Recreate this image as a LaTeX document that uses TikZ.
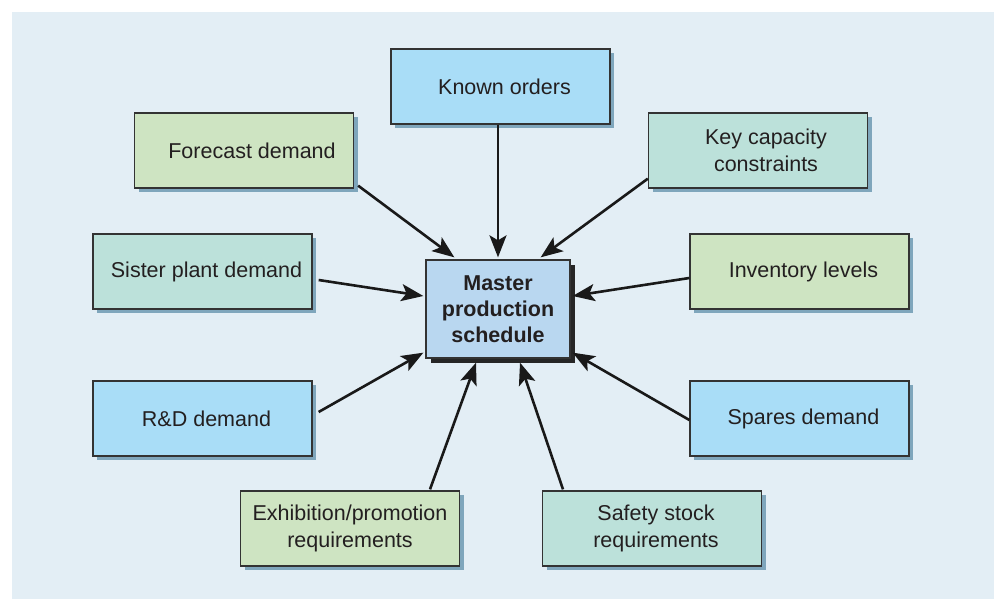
\documentclass[tikz,border=0pt]{standalone}
\usepackage{fontspec}
\setmainfont{Liberation Sans}
\usetikzlibrary{calc,arrows.meta,shadows}
\definecolor{bgcol}{HTML}{E3EEF5}
\definecolor{bluebox}{HTML}{A9DDF7}
\definecolor{greenbox}{HTML}{CEE4C2}
\definecolor{tealbox}{HTML}{BCE1DA}
\definecolor{masterbox}{HTML}{B9D7F0}
\definecolor{shadowcol}{HTML}{7FA6BC}
\definecolor{txtcol}{HTML}{231F20}
\definecolor{edgecol}{HTML}{333333}
\newcommand{\sh}{\hspace*{8pt}}
\tikzset{
  box/.style={draw=edgecol, line width=1.3pt, minimum width=219pt, minimum height=75pt,
    inner sep=0pt, align=center, text=txtcol,
    font=\fontsize{21.5}{27}\selectfont,
    drop shadow={shadow xshift=4pt, shadow yshift=-4pt, fill=shadowcol, opacity=1}},
  bluebx/.style={box, fill=bluebox},
  greenbx/.style={box, fill=greenbox},
  tealbx/.style={box, fill=tealbox},
  masterbx/.style={draw=edgecol, line width=1.3pt, minimum width=144pt, minimum height=98pt,
    inner sep=0pt, align=center, text=txtcol, fill=masterbox,
    font=\fontsize{21.5}{26}\selectfont\bfseries,
    drop shadow={shadow xshift=4.5pt, shadow yshift=-4.5pt, fill=black!85, opacity=1}},
  arr/.style={draw=black!90, line width=2.6pt, -{Stealth[length=22pt,width=17pt,inset=5pt]}}
}
\begin{document}
\begin{tikzpicture}[x=1pt,y=-1pt]
\useasboundingbox (0,0) rectangle (994,599);
\fill[white] (0,0) rectangle (994,599);
\fill[bgcol] (12,12) rectangle (995,600);

\node[bluebx] (known) at (500.5,86.5) {\sh Known orders};
\node[greenbx] (forecast) at (244,150.5) {\sh\sh Forecast demand};
\node[tealbx] (keycap) at (758,150.5) {\sh\sh Key capacity\\\sh\sh constraints};
\node[tealbx] (sister) at (202.5,271.5) {\sh Sister plant demand};
\node[greenbx] (inventory) at (799.5,271.5) {\sh Inventory levels};
\node[bluebx] (rd) at (202.5,418.5) {\sh R\&D demand};
\node[bluebx] (spares) at (799.5,418.5) {\sh Spares demand};
\node[greenbx] (exhib) at (350,528.5) {Exhibition/promotion\\requirements};
\node[tealbx] (safety) at (652,528.5) {\sh Safety stock\\\sh requirements};
\node[masterbx] (master) at (498,309) {Master\\production\\schedule};

\draw[arr] (master.north |- known.south) -- ($(master.north)+(0,-2)$);
\draw[arr] ($(forecast.south east)+(4,-3)$) -- ($(master.north west)+(29,-2)$);
\draw[arr] ($(keycap.south west)+(0,-10)$) -- ($(master.north east)+(-30,-2)$);
\draw[arr] ($(sister.east)+(6,8.5)$) -- ($(master.west)+(-2,-13)$);
\draw[arr] ($(inventory.west)+(0,6.5)$) -- ($(master.east)+(2,-13)$);
\draw[arr] ($(rd.east)+(6,-6.5)$) -- ($(master.south west)+(-2,-6)$);
\draw[arr] ($(spares.west)+(0,1.5)$) -- ($(master.south east)+(2,-6)$);
\draw[arr] ($(exhib.north)+(80,-1)$) -- ($(master.south)+(-22,4)$);
\draw[arr] ($(safety.north)+(-89,-1)$) -- ($(master.south)+(22,4)$);
\end{tikzpicture}
\end{document}
